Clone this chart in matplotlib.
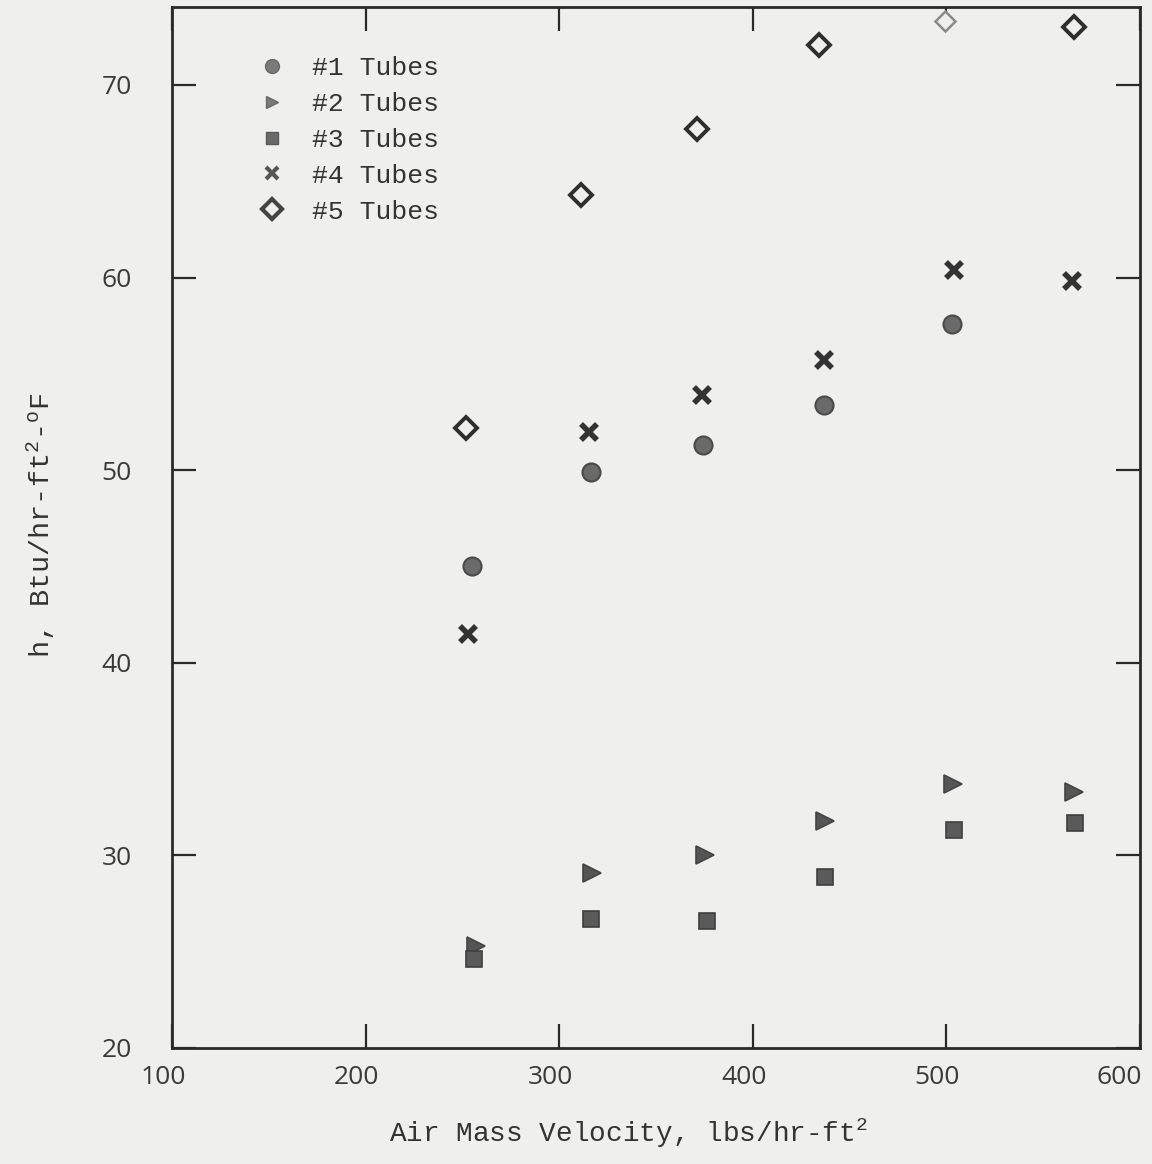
import matplotlib
matplotlib.use("Agg")
import matplotlib.pyplot as plt
from matplotlib.lines import Line2D
from matplotlib.transforms import ScaledTranslation

plt.rcParams["mathtext.fontset"] = "custom"
plt.rcParams["mathtext.rm"] = "Liberation Mono"
plt.rcParams["mathtext.it"] = "Liberation Mono"

# Air mass velocity (lbs/hr-ft^2) and heat transfer coefficient h for each tube bank
x_tube1 = [254.7, 316.2, 374.1, 436.6, 502.9]
h_tube1 = [45.0, 49.9, 51.3, 53.4, 57.6]

x_tube2 = [256.8, 317.0, 375.5, 437.1, 503.4, 566.0]
h_tube2 = [25.3, 29.1, 30.0, 31.8, 33.7, 33.3]

x_tube3 = [256.1, 316.3, 376.4, 437.1, 504.1, 566.2]
h_tube3 = [24.6, 26.7, 26.6, 28.9, 31.3, 31.7]

x_tube4 = [253.0, 315.3, 373.5, 437.0, 504.0, 564.8]
h_tube4 = [41.5, 52.0, 53.9, 55.7, 60.4, 59.8]

x_tube5 = [252.1, 311.5, 371.2, 434.0, 499.4, 565.7]
h_tube5 = [52.2, 64.3, 67.7, 72.1, 73.3, 73.0]

series_labels = ["#1 Tubes", "#2 Tubes", "#3 Tubes", "#4 Tubes", "#5 Tubes"]

x_ticks = [100, 200, 300, 400, 500, 600]
y_ticks = [20, 30, 40, 50, 60, 70]

paper = "#efefed"
ink = "#2a2a2a"

fig = plt.figure(figsize=(11.52, 11.64), dpi=100, facecolor=paper)
ax = fig.add_axes([0.1493, 0.0997, 0.8403, 0.8943], facecolor=paper)

ax.plot(x_tube1, h_tube1, ls="none", marker="o", ms=13, mfc="#6a6a6a",
        mec="#4a4a4a", mew=1.5)
ax.plot(x_tube2, h_tube2, ls="none", marker=">", ms=13, mfc="#555555",
        mec="#444444", mew=1.2)
ax.plot(x_tube3, h_tube3, ls="none", marker="s", ms=12, mfc="#5a5a5a",
        mec="#3f3f3f", mew=1.2)
ax.plot(x_tube4, h_tube4, ls="none", marker="x", ms=11, mec="#333333",
        mew=4)
ax.plot(x_tube5[:4] + x_tube5[5:], h_tube5[:4] + h_tube5[5:], ls="none",
        marker="D", ms=11, mfc=paper, mec="#2e2e2e", mew=2.8)
ax.plot(x_tube5[4:5], h_tube5[4:5], ls="none", marker="D", ms=10,
        mfc=paper, mec="#8a8a8a", mew=1.8, clip_on=False)

ax.set_xlim(100, 600)
ax.set_ylim(20, 74.05)
ax.set_xticks(x_ticks)
ax.set_yticks(y_ticks)

for side in ["left", "right", "top", "bottom"]:
    ax.spines[side].set_color(ink)
    ax.spines[side].set_linewidth(2)

ax.tick_params(axis="both", which="both", direction="in", length=17,
               width=1.6, color=ink, top=True, right=True,
               labelsize=19, labelcolor="#3a3a3a")
ax.tick_params(axis="y", pad=29)
ax.tick_params(axis="x", pad=12)
for lab in ax.get_xticklabels() + ax.get_yticklabels():
    lab.set_fontfamily("Open Sans")

# typewritten numerals sit a little left of their tick marks
for lab in ax.get_xticklabels():
    lab.set_transform(lab.get_transform() +
                      ScaledTranslation(-0.09, 0, fig.dpi_scale_trans))
last = ax.get_xticklabels()[-1]
last.set_transform(last.get_transform() +
                   ScaledTranslation(-0.12, 0, fig.dpi_scale_trans))

ax.set_xlabel("Air Mass Velocity, lbs/hr-ft$^2$", fontsize=20,
              family="Liberation Mono", color="#333333")
ax.xaxis.set_label_coords(0.472, -0.082)
ax.set_ylabel("h, Btu/hr-ft$^2$-$^{\\rm o}$F", fontsize=20.5,
              family="Liberation Mono", color="#333333")
ax.yaxis.set_label_coords(-0.136, 0.502)
ax.xaxis.label.set_va("center")
ax.yaxis.label.set_va("center")

handles = [
    Line2D([], [], ls="none", marker="o", ms=10, mfc="#7a7a7a", mec="#6a6a6a"),
    Line2D([], [], ls="none", marker=">", ms=9, mfc="#7a7a7a", mec="#6a6a6a"),
    Line2D([], [], ls="none", marker="s", ms=8, mfc="#6a6a6a", mec="#5a5a5a"),
    Line2D([], [], ls="none", marker="x", ms=8, mec="#555555", mew=3),
    Line2D([], [], ls="none", marker="D", ms=10, mfc=paper, mec="#444444", mew=3),
]
leg = ax.legend(handles, series_labels, loc="upper left",
                bbox_to_anchor=(0.079, 0.963), frameon=False,
                prop={"family": "Liberation Mono", "size": 19},
                labelspacing=0.45, handletextpad=1.0, handlelength=1.0,
                borderaxespad=0)
for t in leg.get_texts():
    t.set_color("#333333")

fig.savefig("out.png", dpi=100, facecolor=paper)
